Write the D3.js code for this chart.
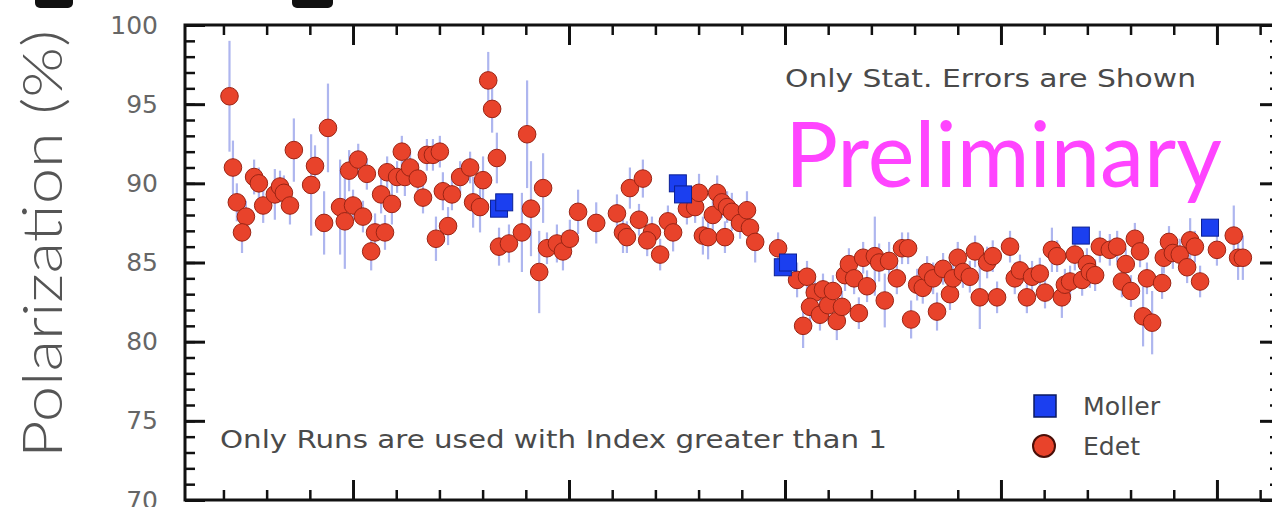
<!DOCTYPE html>
<html>
<head>
<meta charset="utf-8">
<script src="https://cdn.jsdelivr.net/npm/d3@7"></script>
<style>
  html, body { margin: 0; padding: 0; background: #fff; }
  svg { display: block; }
</style>
</head>
<body>
<svg id="chart" width="1272" height="507"></svg>
<script>
// Edet points (run index, polarization %, stat. error)
const edetX = [21.4, 22.2, 23.1, 25.2, 24.3, 27.1, 28.2, 29.2, 31.9, 33.1, 34.0, 35.4, 36.3, 40.3, 41.2, 43.3, 44.2, 47.0, 48.1, 49.1,
  51.2, 50.0, 52.3, 53.2, 55.1, 57.4, 54.2, 56.5, 57.9, 59.0, 60.2, 61.3, 62.0, 63.2, 65.0, 66.2, 67.1, 68.5, 70.1, 69.2,
  72.0, 70.8, 72.9, 74.8, 77.1, 80.1, 77.8, 79.4, 81.3, 82.2, 83.3, 90.3, 83.8, 86.1, 89.1, 91.2, 94.0, 93.1, 94.9, 97.2,
  98.6, 100.2, 102.1, 106.3, 111.1, 112.5, 113.4, 114.1, 117.1, 116.2, 119.2, 118.1, 121.1, 122.9, 124.1, 127.3, 129.2, 130.1, 131.0, 132.2,
  134.3, 133.3, 135.4, 136.6, 136.1, 137.7, 139.6, 141.2, 141.9, 143.1, 148.4, 152.8, 155.1, 154.2, 156.9, 155.8, 158.1, 158.8, 160.0, 161.1,
  162.0, 163.2, 163.9, 164.8, 166.0, 167.1, 168.1, 169.0, 170.8, 171.8, 173.1, 174.1, 175.9, 177.1, 178.5, 179.2, 180.6, 181.9, 182.9, 184.3,
  185.2, 186.6, 188.2, 188.9, 190.0, 191.2, 192.8, 194.0, 195.1, 196.8, 198.1, 199.1, 202.1, 203.2, 204.4, 206.0, 207.2, 209.0, 210.2, 211.8,
  213.0, 214.1, 214.8, 216.0, 217.1, 218.8, 219.9, 220.6, 221.8, 222.9, 225.2, 226.9, 228.0, 228.9, 230.1, 231.0, 232.2, 232.9, 235.0, 233.8,
  237.3, 237.7, 238.9, 239.8, 241.4, 243.1, 243.8, 244.9, 246.1, 250.0, 253.9, 254.9, 256.0]
const edetY = [95.5, 91.0, 88.8, 87.9, 86.9, 90.4, 90.0, 88.6, 89.3, 89.8, 89.4, 88.6, 92.1, 89.9, 91.1, 87.5, 93.5, 88.5, 87.6, 90.8,
  91.5, 88.6, 87.9, 90.6, 86.9, 86.9, 85.7, 89.3, 90.7, 88.7, 90.4, 92.0, 90.4, 91.0, 90.3, 89.1, 91.8, 91.8, 92.0, 86.5,
  87.3, 89.5, 89.3, 90.4, 91.0, 90.2, 88.8, 88.5, 96.5, 94.7, 91.6, 93.1, 86.0, 86.2, 86.9, 88.4, 89.7, 84.4, 85.9, 86.2,
  85.7, 86.5, 88.2, 87.5, 88.1, 86.9, 86.6, 89.7, 90.3, 87.7, 86.9, 86.4, 85.5, 87.6, 86.9, 88.4, 88.5, 89.4, 86.7, 86.6,
  89.4, 88.0, 88.8, 88.5, 86.6, 88.2, 87.5, 88.3, 87.2, 86.3, 85.9, 83.9, 84.1, 81.0, 83.1, 82.2, 81.7, 83.3, 82.3, 83.2,
  81.3, 82.2, 84.2, 84.9, 84.0, 81.8, 85.3, 83.5, 85.4, 85.0, 82.6, 85.1, 84.0, 85.9, 85.9, 81.4, 83.6, 83.4, 84.4, 84.0,
  81.9, 84.6, 83.0, 84.0, 85.3, 84.4, 84.1, 85.7, 82.8, 85.0, 85.4, 82.8, 86.0, 84.0, 84.5, 82.8, 84.1, 84.3, 83.1, 85.8,
  85.4, 82.8, 83.6, 83.8, 85.5, 83.9, 84.9, 84.4, 84.2, 86.0, 85.8, 86.0, 83.8, 84.9, 83.2, 86.5, 85.7, 81.6, 81.2, 84.0,
  83.7, 85.3, 86.3, 85.6, 85.5, 84.7, 86.4, 86.0, 83.8, 85.8, 86.7, 85.3, 85.3]
const edetErr = [3.5, 1.7, 1.2, 1.0, 1.3, 1.1, 1.0, 1.1, 1.6, 1.0, 1.1, 1.2, 2.0, 3.2, 1.3, 2.0, 2.8, 3.0, 3.0, 1.3,
  1.0, 1.0, 1.0, 1.0, 1.2, 1.1, 1.2, 1.2, 1.0, 1.3, 1.0, 1.0, 1.2, 1.0, 1.0, 1.0, 1.0, 1.0, 1.0, 1.4,
  1.2, 1.2, 1.0, 1.0, 1.0, 1.5, 1.6, 1.6, 1.8, 1.5, 1.6, 3.4, 1.2, 1.2, 2.5, 3.0, 2.2, 2.6, 1.0, 1.2,
  1.2, 1.2, 1.4, 1.3, 1.2, 1.3, 1.0, 1.3, 1.2, 1.0, 1.0, 1.0, 1.0, 1.0, 1.2, 1.0, 1.0, 1.2, 1.2, 1.4,
  1.1, 1.0, 1.0, 1.0, 1.0, 1.2, 1.0, 1.2, 1.0, 1.3, 1.0, 1.1, 1.0, 1.4, 1.0, 1.0, 1.0, 1.0, 1.0, 1.0,
  1.2, 1.0, 1.0, 1.0, 1.0, 1.0, 1.0, 1.0, 2.5, 1.2, 1.7, 1.2, 1.0, 1.0, 1.0, 1.2, 1.0, 1.0, 1.0, 1.0,
  1.2, 1.0, 1.0, 1.0, 1.0, 1.0, 1.0, 1.0, 2.0, 1.0, 1.0, 1.0, 1.0, 1.0, 1.0, 1.0, 1.0, 1.0, 1.0, 1.4,
  1.0, 1.3, 1.0, 1.0, 1.0, 1.0, 1.0, 1.0, 1.0, 1.0, 1.0, 1.0, 1.0, 1.0, 1.0, 1.0, 1.0, 1.9, 2.0, 1.0,
  1.0, 1.0, 1.0, 1.0, 1.0, 1.0, 1.4, 1.0, 1.0, 1.0, 1.9, 1.4, 1.4]

// Moller points
const mollerX = [83.8, 85.0, 125.2, 126.4, 149.5, 150.7, 218.5, 248.4]
const mollerY = [88.4, 88.8, 90.0, 89.3, 84.7, 85.0, 86.7, 87.2]

const yMajorTicks = [70, 75, 80, 85, 90, 95, 100]
const xMajorTicks = [50, 100, 150, 200, 250]

const legendItems = ['Moller', 'Edet']
const yLabel = 'Polarization (%)'
const noteTop = 'Only Stat. Errors are Shown'
const noteBottom = 'Only Runs are used with Index greater than 1'
const stamp = 'Preliminary'

const svg = d3.select('#chart')
const margin = {top: 25, right: -8, bottom: 7, left: 185}
const width = +svg.attr('width')
const height = +svg.attr('height')
const x0 = margin.left, x1 = width - margin.right
const y0 = margin.top, y1 = height - margin.bottom

const xScale = d3.scaleLinear().domain([11.1, 264.6]).range([x0, x1])
const yScale = d3.scaleLinear().domain([70, 100]).range([y1, y0])

// cut off title remnants at the very top
svg.append('rect').attr('x', 35).attr('y', -8).attr('width', 38).attr('height', 16).attr('rx', 5).attr('fill', '#111')
svg.append('rect').attr('x', 292).attr('y', -8).attr('width', 41).attr('height', 16).attr('rx', 5).attr('fill', '#111')

const tickFont = 'DejaVu Sans, sans-serif'

function styleAxis(g, w) {
  g.select('.domain').remove()
  g.selectAll('.tick line').attr('stroke', '#111').attr('stroke-width', w)
}

// y axes
svg.append('g').attr('transform', `translate(${x0},0)`)
  .call(d3.axisLeft(yScale).tickValues(d3.range(70, 101, 1)).tickSize(-10).tickFormat(''))
  .call(g => styleAxis(g, 2.5))
svg.append('g').attr('transform', `translate(${x0},0)`)
  .call(d3.axisLeft(yScale).tickValues(yMajorTicks).tickSize(-20).tickPadding(27))
  .call(g => styleAxis(g, 3))
  .call(g => g.selectAll('text').attr('font-family', tickFont).attr('font-size', 25).attr('fill', '#666'))
svg.append('g').attr('transform', `translate(${x1},0)`)
  .call(d3.axisRight(yScale).tickValues(d3.range(70, 101, 1)).tickSize(-10).tickFormat(''))
  .call(g => styleAxis(g, 2.5))
svg.append('g').attr('transform', `translate(${x1},0)`)
  .call(d3.axisRight(yScale).tickValues(yMajorTicks).tickSize(-20).tickFormat(''))
  .call(g => styleAxis(g, 3))

// x axes (top + bottom, no labels visible)
const xMinor = d3.range(20, 261, 10).filter(v => v % 50 !== 0)
svg.append('g').attr('transform', `translate(0,${y1})`)
  .call(d3.axisBottom(xScale).tickValues(xMinor).tickSize(-10).tickFormat(''))
  .call(g => styleAxis(g, 2.5))
svg.append('g').attr('transform', `translate(0,${y1})`)
  .call(d3.axisBottom(xScale).tickValues(xMajorTicks).tickSize(-20).tickFormat(''))
  .call(g => styleAxis(g, 3))
svg.append('g').attr('transform', `translate(0,${y0})`)
  .call(d3.axisTop(xScale).tickValues(xMinor).tickSize(-10).tickFormat(''))
  .call(g => styleAxis(g, 2.5))
svg.append('g').attr('transform', `translate(0,${y0})`)
  .call(d3.axisTop(xScale).tickValues(xMajorTicks).tickSize(-20).tickFormat(''))
  .call(g => styleAxis(g, 3))

svg.append('rect')
  .attr('x', x0).attr('y', y0).attr('width', x1 - x0).attr('height', y1 - y0)
  .attr('fill', 'none').attr('stroke', '#111').attr('stroke-width', 3)

// y label
svg.append('text')
  .attr('transform', `translate(62, 244) rotate(-90)`)
  .attr('text-anchor', 'middle')
  .attr('font-family', 'Lato, sans-serif')
  .attr('font-weight', 300)
  .attr('font-size', 56)
  .attr('fill', '#555')
  .attr('textLength', 428).attr('lengthAdjust', 'spacingAndGlyphs')
  .text(yLabel)

// notes
svg.append('text').attr('x', 785).attr('y', 87)
  .attr('font-family', tickFont).attr('font-size', 24).attr('fill', '#4a4a4a')
  .attr('textLength', 411).attr('lengthAdjust', 'spacingAndGlyphs')
  .text(noteTop)
svg.append('text').attr('x', 220).attr('y', 448)
  .attr('font-family', tickFont).attr('font-size', 24).attr('fill', '#4a4a4a')
  .attr('textLength', 667).attr('lengthAdjust', 'spacingAndGlyphs')
  .text(noteBottom)

svg.append('text').attr('x', 785).attr('y', 187)
  .attr('font-family', 'Lato, sans-serif').attr('font-size', 92).attr('fill', '#ff44ff')
  .attr('textLength', 437).attr('lengthAdjust', 'spacingAndGlyphs')
  .text(stamp)

// error bars
const edet = edetX.map((v, i) => ({x: v, y: edetY[i], e: edetErr[i]}))
const moller = mollerX.map((v, i) => ({x: v, y: mollerY[i]}))

svg.append('g').selectAll('line').data(edet).join('line')
  .attr('x1', d => xScale(d.x)).attr('x2', d => xScale(d.x))
  .attr('y1', d => yScale(d.y + d.e)).attr('y2', d => yScale(d.y - d.e))
  .attr('stroke', '#aeb6ef').attr('stroke-width', 2.2)

svg.append('g').selectAll('circle').data(edet).join('circle')
  .attr('cx', d => xScale(d.x)).attr('cy', d => yScale(d.y)).attr('r', 8.8)
  .attr('fill', '#e8432b').attr('stroke', '#9a2414').attr('stroke-width', 1)

const sq = 17
svg.append('g').selectAll('rect').data(moller).join('rect')
  .attr('x', d => xScale(d.x) - sq / 2).attr('y', d => yScale(d.y) - sq / 2)
  .attr('width', sq).attr('height', sq)
  .attr('fill', '#1b3ff0').attr('stroke', '#0b2094').attr('stroke-width', 1)

// legend
const legend = svg.append('g')
legend.append('rect').attr('x', 1034).attr('y', 395).attr('width', 22).attr('height', 22)
  .attr('fill', '#1b3ff0').attr('stroke', '#0b1a60').attr('stroke-width', 1.5)
legend.append('circle').attr('cx', 1044).attr('cy', 446).attr('r', 11)
  .attr('fill', '#e8432b').attr('stroke', '#4a0f08').attr('stroke-width', 2)
legend.selectAll('text').data(legendItems).join('text')
  .attr('x', 1083).attr('y', (d, i) => 415 + i * 40)
  .attr('font-family', tickFont).attr('font-size', 24).attr('fill', '#4a4a4a')
  .attr('textLength', (d, i) => i === 0 ? 77 : 57).attr('lengthAdjust', 'spacingAndGlyphs')
  .text(d => d)
</script>
</body>
</html>
